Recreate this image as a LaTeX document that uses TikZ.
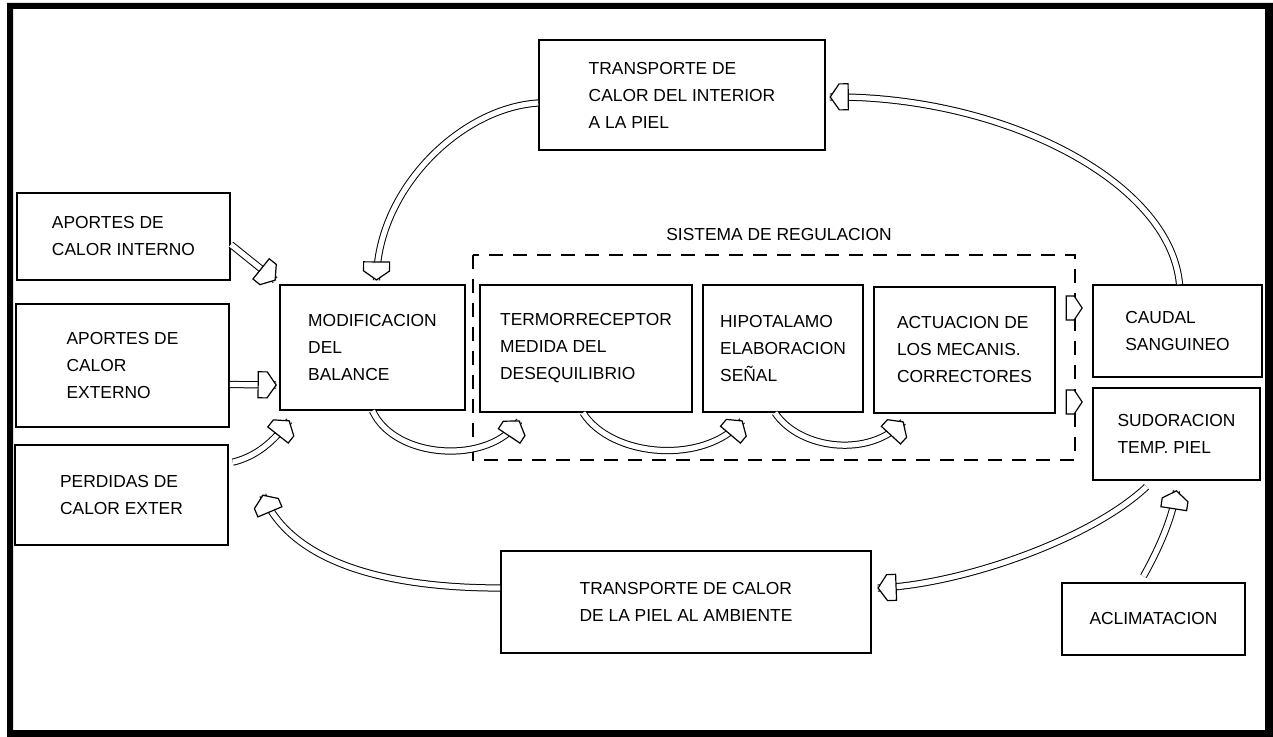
\documentclass[tikz,border=0pt]{standalone}
\usepackage{fontspec}
\setmainfont{Liberation Sans}
\usetikzlibrary{decorations.markings}

\begin{document}
\begin{tikzpicture}[x=0.5pt,y=-0.5pt,
  caja/.style={draw,line width=0.8pt,align=left,inner sep=0pt,
    font=\fontsize{8.7}{13.5}\selectfont},
  rayado/.style={line width=0.7pt,dash pattern=on 7pt off 5pt},
  tubo/.style={preaction={draw,line width=0.5pt,double,double distance=2.6pt},
    postaction={decorate,decoration={markings,mark=at position 0.999 with
    {\draw[line width=0.6pt,fill=white] (0pt,0pt) -- (-4.5pt,6.5pt) -- (-9pt,6.5pt)
      -- (-9pt,-6.5pt) -- (-4.5pt,-6.5pt) -- cycle;}}}},
  punta/.style={postaction={decorate,decoration={markings,mark=at position 0.999 with
    {\draw[line width=0.6pt,fill=white] (0pt,0pt) -- (-4pt,6pt) -- (-8pt,6pt)
      -- (-8pt,-6pt) -- (-4pt,-6pt) -- cycle;}}}}]
\useasboundingbox (0,0) rectangle (1273,737);
\fill[even odd rule] (7,3) rectangle (1273,737) (13,9) rectangle (1265,730);

\node[caja,minimum width=143pt,minimum height=55pt] (tint) at (682,95)
  {TRANSPORTE DE\\CALOR DEL INTERIOR\\A LA PIEL};
\node[caja,minimum width=106.5pt,minimum height=43.5pt] (aint) at (123.5,236.5)
  {APORTES DE\\CALOR INTERNO};
\node[caja,minimum width=106.5pt,minimum height=61.5pt] (aext) at (122.5,365.5)
  {APORTES DE\\CALOR\\EXTERNO};
\node[caja,minimum width=106.5pt,minimum height=50pt] (perd) at (121.5,495)
  {PERDIDAS DE\\CALOR EXTER};
\node[caja,minimum width=92.5pt,minimum height=62.5pt] (modif) at (372.5,347.5)
  {MODIFICACION\\DEL\\BALANCE};
\node[caja,minimum width=106pt,minimum height=63.5pt] (termo) at (586,348.5)
  {TERMORRECEPTOR\\MEDIDA DEL\\DESEQUILIBRIO};
\node[caja,minimum width=80pt,minimum height=63.5pt] (hipo) at (783,348.5)
  {HIPOTALAMO\\ELABORACION\\SEÑAL};
\node[caja,minimum width=90.5pt,minimum height=63pt] (act) at (964.5,350)
  {ACTUACION DE\\LOS MECANIS.\\CORRECTORES};
\node[caja,minimum width=84.5pt,minimum height=46pt] (caudal) at (1177.5,331)
  {CAUDAL\\SANGUINEO};
\node[caja,minimum width=83.5pt,minimum height=46pt] (sudor) at (1176.5,434)
  {SUDORACION\\TEMP. PIEL};
\node[caja,minimum width=185pt,minimum height=51pt] (tamb) at (686,602)
  {TRANSPORTE DE CALOR\\DE LA PIEL AL AMBIENTE};
\node[caja,minimum width=91.5pt,minimum height=36pt] (aclim) at (1153.5,619)
  {ACLIMATACION};
\node[font=\fontsize{8.7}{13.5}\selectfont] (sis) at (779,235) {SISTEMA DE REGULACION};
\draw[rayado] (473,255) rectangle (1075,460);

\path[tubo] ([yshift=-4pt]tint.west) .. controls (460,108) and (377,190) .. ([xshift=2pt,yshift=2pt]modif.north);
\path[tubo] ([xshift=1pt]caudal.north) .. controls (1170,180) and (1000,95) .. ([xshift=2pt,yshift=-1pt]tint.east);
\path[tubo] ([yshift=-4pt]aint.east) -- ([xshift=-2pt,yshift=2pt]modif.north west);
\path[tubo] ([yshift=-9.5pt]aext.east) -- ([xshift=-1.5pt,yshift=-18.75pt]modif.west);
\path[tubo] ([xshift=2pt,yshift=-9pt]perd.north east) .. controls (262,455) and (278,435) .. ([xshift=5pt,yshift=-5pt]modif.south west);
\path[tubo] (modif.south) .. controls (395,460) and (490,465) .. ([xshift=20pt,yshift=-4pt]termo.south west);
\path[tubo] ([xshift=-1.5pt]termo.south) .. controls (612,458) and (705,465) .. ([xshift=20pt,yshift=-4pt]hipo.south west);
\path[tubo] ([xshift=-4pt]hipo.south) .. controls (800,450) and (870,458) .. ([xshift=15pt,yshift=-4pt]act.south west);
\path[punta] ([yshift=21pt]act.east) -- ([xshift=-5pt,yshift=11.5pt]caudal.west);
\path[punta] ([yshift=-26pt]act.east) -- ([xshift=-5pt,yshift=16pt]sudor.west);
\path[tubo] ([xshift=-15pt,yshift=-3pt]sudor.south) .. controls (1090,540) and (960,585) .. ([xshift=3pt,yshift=7pt]tamb.east);
\path[tubo] ([yshift=7pt]tamb.west) .. controls (380,588) and (290,560) .. ([xshift=17pt]perd.east);
\path[tubo] ([xshift=-5pt,yshift=3pt]aclim.north) .. controls (1158,550) and (1172,520) .. ([yshift=-5pt]sudor.south);
\end{tikzpicture}
\end{document}
